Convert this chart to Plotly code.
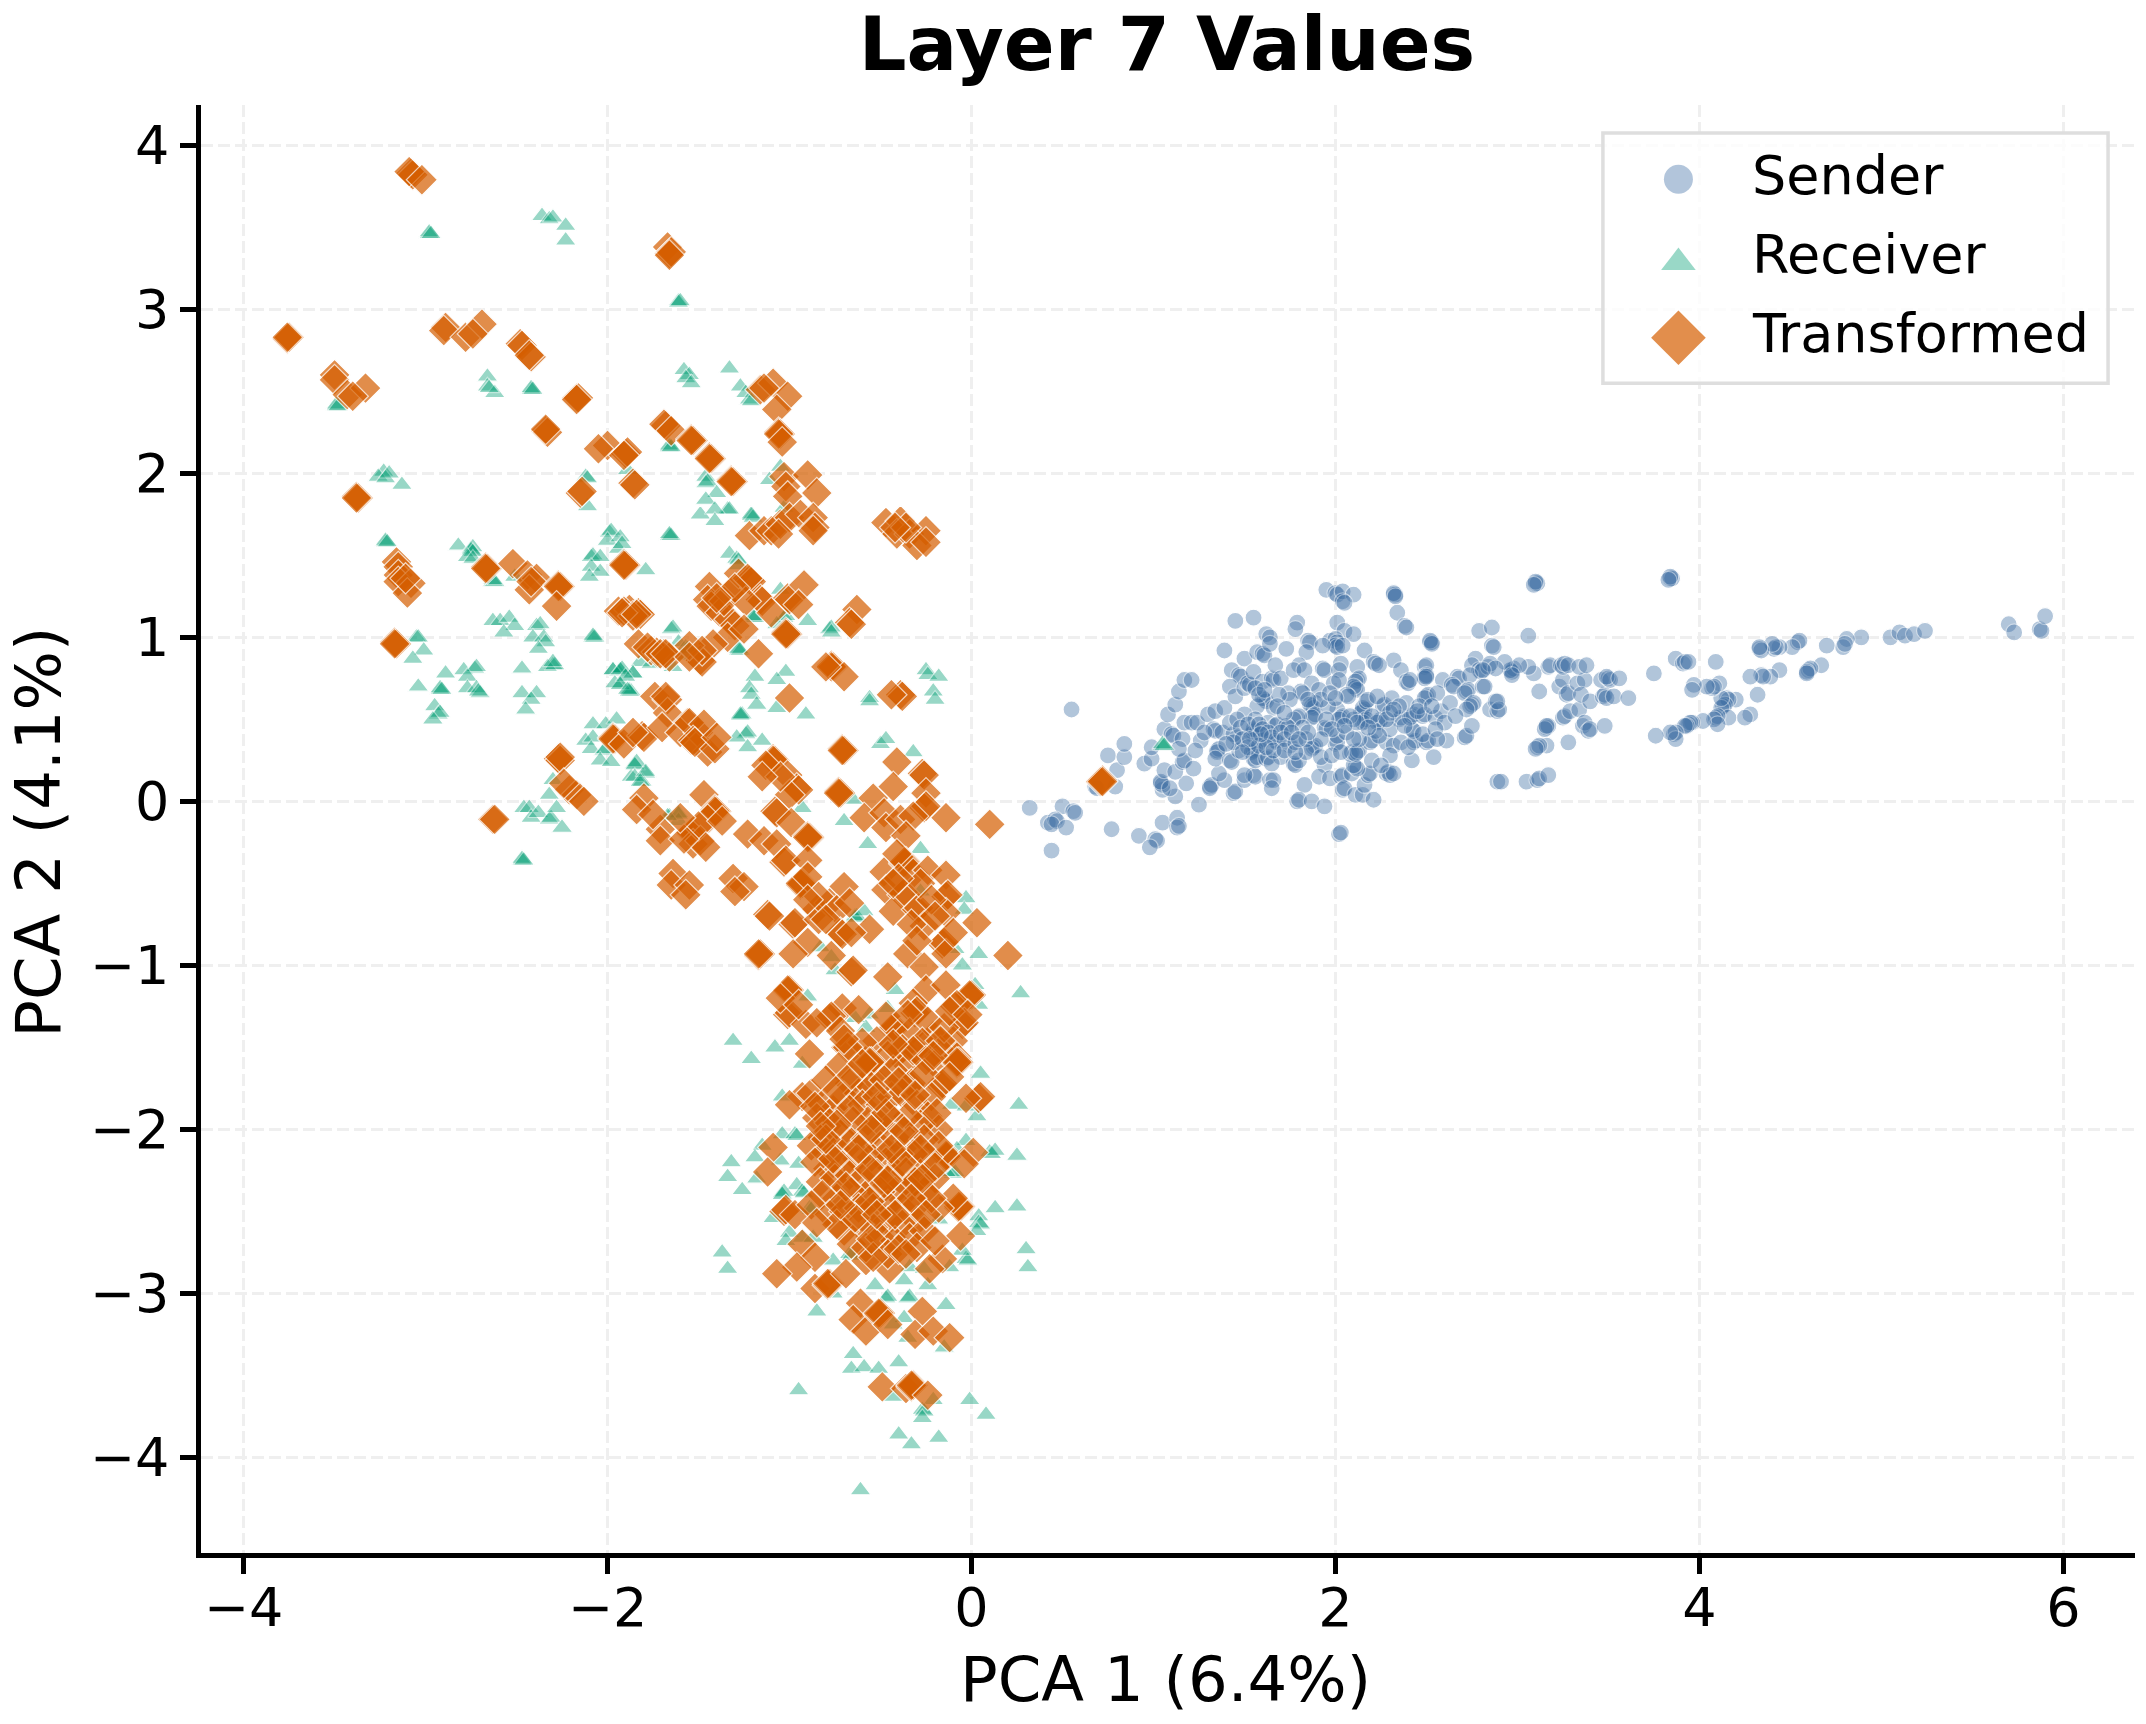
import plotly.graph_objects as go

TITLE = "Layer 7 Values"
X_LABEL = "PCA 1 (6.4%)"
Y_LABEL = "PCA 2 (4.1%)"
SERIES_NAMES = ["Sender", "Receiver", "Transformed"]
X_TICKS = [-4, -2, 0, 2, 4, 6]
Y_TICKS = [-4, -3, -2, -1, 0, 1, 2, 3, 4]

# Projected activations, (PCA 1, PCA 2), grouped by region of the embedding.
sender_left = [
    (.55,.56),(.32,-.04),(.50,-.03),(.56,-.06),(.57,-.07),(.42,-.13),(.46,-.11),(.47,-.12),(.44,-.14),(.52,-.16),(.44,-.30),(.77,-.17),
    (.92,-.21),(1.01,-.23),(1.02,-.24),(.98,-.28),(1.05,-.13),(1.13,-.10),(1.13,-.16),(1.14,-.15),(1.25,-.02),(1.12,.03),(1.05,.07),
    (1.04,.11),(1.05,.10),(1.04,.12),(1.09,.08),(1.18,.11),(1.31,.09),(1.32,.10),(1.31,.08),(1.44,.05),(1.45,.06),(1.39,.13),(1.36,.17),(1.50,.13),
    (.79,.09),(.80,.19),(.68,.09),(.69,.08),(.75,.28),(.84,.27),(.84,.35),(.95,.23),(.99,.26),(.99,.33),(1.06,.19),(1.12,.18),(1.16,.24),(1.17,.25),
    (1.22,.20),(1.06,.44),(1.10,.41),(1.11,.40),(1.16,.38),(1.26,.37),(1.23,.31),(1.14,.32),(1.08,.53),(1.12,.59),(1.14,.67),(1.17,.74),(1.21,.74),
    (1.17,.48),(1.21,.48),(1.24,.48),(1.30,.53),(1.34,.55),(1.39,.57),(1.33,.44),(1.34,.43),(1.38,.42),(1.35,.31),(1.36,.32),(1.35,.30),
    (1.34,.26),(1.42,.25),(1.43,.24),(1.46,.39),(1.44,.41),(1.47,.31),(1.55,.16),(1.56,.15),
]
sender_upper = [
    (1.45,1.10),(1.55,1.12),(1.39,.92),(1.50,.87),(1.57,.91),(1.60,.90),(1.61,.89),(1.62,1.02),(1.64,1.0),(1.64,.96),(1.43,.80),(1.47,.77),(1.48,.76),
    (1.42,.70),(1.45,.64),(1.50,.69),(1.52,.72),(1.53,.71),(1.55,.79),(1.60,.73),(1.65,.75),(1.66,.74),(1.67,.83),(1.70,.75),(1.79,1.09),(1.78,1.05),
    (1.73,.93),(1.85,.98),(1.86,.97),(1.84,.91),(1.80,.83),(1.77,.80),(1.83,.80),(1.93,.81),(1.94,.80),(1.95,1.29),(2.0,1.27),(2.01,1.26),(2.04,1.28),
    (2.10,1.26),(2.04,1.22),(2.05,1.21),(2.32,1.26),(2.33,1.26),(2.32,1.27),(2.33,1.25),(2.34,1.15),(2.38,1.07),(2.39,1.06),(2.01,1.09),(2.05,1.04),
    (2.10,1.02),(1.97,.98),(2.0,.99),(2.01,.97),(2.0,.95),(2.01,.94),(2.04,.95),(1.93,.95),(2.52,.97),(2.53,.97),(2.52,.98),(2.53,.96),(2.79,1.04),
    (2.86,1.06),(2.86,.95),(2.87,.94),(2.16,.92),(2.32,.86),(2.36,.80),(2.03,.84),(2.02,.80),(2.12,.82),(2.21,.85),(2.22,.84),(2.24,.83),(2.49,.82),
    (2.50,.83),(2.49,.76),(2.50,.77),(2.49,.75),(2.50,.76),(2.39,.73),(2.40,.72),(2.41,.74),(2.59,.74),(2.67,.76),(2.68,.75),(2.77,.87),(2.75,.83),
    (2.79,.80),(2.80,.79),(2.74,.77),(2.84,.82),
]
sender_core = [
    (2.12,.74),(2.13,.75),(2.11,.73),(2.11,.69),(2.12,.68),(2.10,.70),(2.06,.65),(2.07,.64),(1.99,.72),(2.02,.74),(1.87,.72),(1.91,.68),(1.81,.67),(1.82,.66),
    (1.74,.66),(1.89,.60),(1.87,.58),(1.88,.57),(1.86,.59),(1.88,.52),(1.89,.53),(1.87,.51),(1.79,.51),(1.80,.52),(1.77,.50),(1.61,.62),(1.62,.61),(1.60,.63),
    (1.57,.58),(1.66,.57),(1.63,.48),(1.55,.42),(1.56,.43),(1.54,.41),(1.55,.44),(1.50,.53),(1.56,.50),(1.60,.37),(1.61,.38),(1.67,.46),(1.68,.47),(1.73,.46),
    (1.74,.45),(1.67,.37),(1.68,.36),(1.75,.34),(1.55,.31),(1.56,.32),(1.54,.30),(1.55,.26),(1.56,.25),(1.57,.27),(1.62,.26),(1.63,.27),(1.70,.27),(1.65,.23),
    (1.77,.23),(1.78,.22),(1.80,.25),(1.50,.16),(1.64,.13),(1.66,.13),(1.65,.08),(1.83,.10),(1.79,0),(1.80,.01),(1.87,0),(1.94,-.03),(2.02,-.20),(2.03,-.19),
    (1.88,.33),(1.89,.34),(1.87,.32),(1.94,.45),(1.95,.44),(2.0,.35),(2.01,.36),(2.01,.40),(1.94,.22),(1.91,.15),(1.97,.14),(2.03,.15),(2.04,.16),(2.04,.07),
    (2.05,.08),(2.11,.04),(2.15,.04),(2.21,.01),(2.16,.10),(2.18,.16),(2.19,.17),(2.09,.17),(2.11,.21),(2.12,.20),(2.10,.22),(2.08,.29),(2.09,.30),(2.12,.30),
    (2.13,.31),(2.11,.29),(2.20,.25),(2.19,.36),(2.20,.37),(2.13,.38),(2.28,.17),(2.29,.18),(2.30,.16),(2.32,.17),(2.42,.25),(2.54,.27),(2.61,.37),(2.28,.36),
    (2.32,.34),(2.36,.36),(2.43,.36),(2.44,.37),(2.50,.36),(2.51,.37),(2.71,.39),(2.72,.40),(2.75,.46),(2.42,.44),(2.43,.43),(2.48,.41),(2.01,.56),(2.03,.51),
    (2.04,.52),(2.02,.50),(2.15,.55),(2.16,.56),(2.14,.54),(2.15,.57),(2.17,.61),(2.18,.62),(2.16,.49),(2.17,.50),(2.15,.48),(2.24,.49),(2.25,.50),(2.23,.48),
    (2.26,.58),(2.27,.59),(2.31,.63),(2.23,.64),(2.35,.50),(2.36,.51),(2.42,.52),(2.43,.53),(2.41,.51),(2.39,.60),(2.50,.64),(2.51,.65),(2.49,.63),(2.48,.52),
    (2.49,.53),(2.55,.51),(2.58,.55),(2.56,.66),(2.64,.71),(2.65,.70),(2.72,.67),(2.73,.68),(2.71,.66),(2.75,.59),(2.76,.60),(2.74,.58),(2.63,.60),(2.81,.70),
    (2.72,.56),(2.85,.56),(2.88,.61),(2.89,.55),(2.90,.56),(2.89,.12),(1.42,.48),(1.46,.50),(1.48,.45),(1.52,.47),(1.44,.36),(1.49,.38),(1.52,.33),(1.58,.47),
    (1.60,.44),(1.63,.42),(1.65,.39),(1.70,.42),(1.72,.38),(1.58,.34),(1.62,.33),(1.66,.31),(1.72,.31),(1.59,.41),(1.53,.38),(1.49,.30),(1.78,.36),(1.82,.45),
    (1.84,.38),(1.84,.30),(1.78,.30),(1.92,.27),(1.98,.28),(2.06,.42),(2.22,.43),(2.30,.44),(2.35,.58),(2.46,.58),(2.30,.54),(2.10,.50),(1.96,.58),(1.92,.62),
    (1.97,.66),(1.75,.62),(1.69,.65),(1.56,.69),(1.58,.65),(1.61,.68),
    (2.08,.52),(2.12,.48),(2.20,.52),(2.28,.50),(2.32,.56),(2.38,.46),(2.45,.55),(2.53,.58),(2.60,.48),(2.55,.44),(2.66,.52),(1.95,.50),(1.98,.44),(2.05,.46),
    (2.1,.38),(2.24,.40),(2.18,.45),(1.92,.38),(1.85,.42),(1.76,.42),(1.8,.38),(2.03,.30),(2.30,.28),(2.25,.22),(2.40,.33),(2.56,.38),(1.40,.35),(1.28,.42),
    (1.68,.58),(1.72,.54),(1.85,.62),(2.0,.63),
]
sender_right = [
    (3.10,1.33),(3.11,1.33),(3.10,1.34),(3.09,1.32),(3.84,1.36),(3.85,1.36),(3.84,1.37),(3.83,1.35),(5.70,1.08),(5.73,1.03),(5.87,1.05),(5.88,1.04),(5.90,1.13),
    (5.05,1.0),(5.10,1.03),(5.13,1.01),(5.18,1.02),(5.24,1.04),(4.89,1.0),(4.81,.99),(4.79,.94),(4.80,.96),(4.70,.95),(4.54,.97),(4.55,.98),(4.51,.94),(4.44,.94),
    (4.41,.93),(4.42,.94),(4.40,.96),(4.33,.93),(4.34,.92),(4.33,.94),(4.67,.83),(4.60,.80),(4.61,.81),(4.59,.79),(4.59,.78),(4.44,.80),(4.39,.76),(4.34,.77),
    (4.35,.76),(4.28,.76),(4.32,.65),(4.28,.53),(4.25,.51),(4.20,.62),(4.15,.63),(4.16,.62),(4.13,.58),(4.14,.59),(4.12,.57),(4.12,.63),(4.16,.51),(4.09,.51),
    (4.10,.52),(4.08,.50),(4.10,.47),(4.11,.72),(4.07,.69),(4.08,.70),(4.04,.70),(3.97,.71),(3.96,.68),(4.09,.85),(3.87,.87),(3.91,.84),(3.92,.85),(3.94,.85),
    (3.75,.78),(4.02,.49),(3.96,.48),(3.94,.47),(3.95,.48),(3.93,.46),(3.92,.46),(3.86,.41),(3.87,.42),(3.87,.38),(3.84,.42),(3.76,.40),(3.28,.36),(3.16,.34),
    (3.11,.33),(3.12,.34),(3.10,.32),(2.91,.12),(3.05,.12),(3.11,.13),(3.12,.14),(3.17,.16),(3.16,.45),(3.17,.46),(3.15,.44),(3.16,.46),(3.25,.51),(3.26,.52),
    (3.29,.55),(3.34,.56),(3.36,.46),(3.37,.48),(3.39,.43),(3.40,.44),(3.48,.46),(3.12,.67),(3.23,.70),(3.25,.74),(3.27,.65),(3.28,.66),(3.33,.72),(3.37,.74),
    (3.35,.65),(3.40,.61),(3.47,.64),(3.48,.65),(3.49,.63),(3.53,.64),(3.61,.63),(3.46,.74),(3.50,.75),(3.51,.74),(3.49,.76),(3.56,.75),(3.17,.82),(3.18,.83),
    (3.24,.83),(3.25,.82),(3.26,.84),(3.28,.83),(3.34,.82),(3.38,.83),(3.09,.78),(3.06,.82),(2.97,.80),(2.98,.81),(2.97,.79),(2.96,.80),(3.01,.83),(2.93,.85),
    (2.85,.84),(2.88,.81),(2.81,.80),(2.97,.77),(3.06,1.01),(2.82,.70),(2.89,.61),
]

receiver_upper = [
    (-2.98,3.46),(-2.98,3.47),(-2.97,3.46),(-2.36,3.57),(-2.32,3.55),(-2.30,3.56),(-2.23,3.51),(-2.23,3.42),(-1.61,3.05),(-1.61,3.04),(-1.60,3.05),(-3.49,2.41),
    (-3.49,2.42),(-3.48,2.41),(-2.66,2.59),(-2.66,2.53),(-2.62,2.49),(-2.65,2.52),(-2.42,2.51),(-2.42,2.52),(-2.41,2.51),(-1.58,2.63),(-1.55,2.60),(-1.57,2.58),
    (-1.54,2.55),(-1.33,2.64),(-1.27,2.53),(-1.24,2.49),(-1.22,2.45),(-1.21,2.44),(-1.66,2.16),(-1.66,2.17),(-1.65,2.16),(-2.12,1.98),(-2.11,1.97),(-1.89,2.02),
    (-3.23,2.01),(-3.26,1.98),(-3.22,1.97),(-3.20,2.0),(-3.13,1.93),(-2.11,1.80),(-1.46,1.98),(-1.46,1.94),(-1.45,1.95),(-1.40,1.88),(-1.46,1.84),(-1.34,1.78),
    (-1.33,1.78),(-1.49,1.75),(-1.41,1.78),(-1.41,1.71),(-1.21,1.74),(-1.20,1.73),(-1.21,1.75),(-1.05,2.04),(-1.11,1.96),(-1.03,1.79),(-1.99,1.64),(-1.98,1.65),
    (-2.0,1.59),(-1.93,1.61),(-1.94,1.54),(-1.92,1.57),(-2.09,1.49),(-2.08,1.50),(-2.04,1.49),(-2.09,1.43),(-2.04,1.40),(-2.1,1.37),(-1.66,1.62),(-1.65,1.62),
    (-1.66,1.63),(-1.79,1.41),(-1.33,1.51),(-1.29,1.48),(-1.28,1.47),(-1.28,1.44),(-3.22,1.58),(-3.22,1.59),(-3.21,1.58),(-2.82,1.56),(-2.75,1.54),(-2.74,1.55),
    (-2.75,1.53),(-2.74,1.52),(-2.77,1.49),(-2.74,1.48),(-2.63,1.34),(-2.62,1.34),(-2.63,1.35),(-2.51,1.37),
]
receiver_middle = [
    (-1.2,1.12),(-1.19,1.12),(-1.2,1.13),(-1.05,1.29),(-1.03,1.12),(-1.02,1.13),(-1.07,1.08),(-.90,1.10),(-.78,1.05),(-.77,1.06),(-.77,1.03),(-2.08,1.0),(-2.07,1.0),
    (-2.08,1.01),(-1.65,1.05),(-1.64,1.06),(-1.61,.97),(-1.57,.94),(-1.56,.93),(-1.58,.89),(-1.28,.92),(-1.27,.92),(-1.28,.93),(-1.64,.82),(-1.82,.85),(-1.76,.84),
    (-1.86,.78),(-1.94,.79),(-1.93,.80),(-1.97,.80),(-1.93,.72),(-1.88,.68),(-1.87,.67),(-1.96,.72),(-1.19,.76),(-1.22,.69),(-1.02,.79),(-1.07,.74),(-1.21,.65),
    (-.25,.80),(-.24,.77),(-.18,.76),(-.21,.67),(-.56,.63),(-2.30,.83),(-3.05,1.0),(-3.04,1.0),(-3.01,.92),(-3.07,.87),(-2.63,1.10),(-2.59,1.1),(-2.54,1.12),(-2.51,1.07),
    (-2.57,1.03),(-2.39,1.07),(-2.37,1.08),(-2.41,1.0),(-2.35,1.0),(-2.34,.97),(-2.38,.93),(-2.47,.81),(-2.33,.82),(-2.29,.83),(-2.30,.85),(-2.89,.78),(-2.79,.80),
    (-2.73,.81),(-2.72,.82),(-2.77,.76),(-3.04,.70),(-2.92,.68),(-2.92,.69),(-2.91,.68),(-2.77,.69),(-2.72,.69),(-2.70,.66),(-2.71,.67),(-2.95,.58),(-2.93,.53),(-2.92,.54),
    (-2.96,.50),(-2.47,.66),(-2.39,.66),(-2.42,.62),(-2.45,.56),(-1.97,.80),(-1.93,.80),(-1.92,.81),(-1.86,.78),(-1.90,.76),(-1.93,.71),(-1.88,.67),(-1.89,.68),(-2.08,.47),
    (-2.01,.47),(-1.95,.50),(-2.12,.37),(-2.08,.39),(-2.09,.32),(-2.02,.31),(-2.01,.32),(-2.04,.25),(-1.98,.24),(-1.85,.23),(-1.84,.24),(-1.87,.15),(-1.79,.17),(-1.81,.12),
    (-2.3,.13),(-2.32,.04),(-2.46,-.04),(-2.43,-.04),(-2.42,-.10),(-2.38,-.07),(-2.32,-.11),(-2.31,-.10),(-2.28,-.04),(-2.25,-.16),(-2.47,-.36),(-2.47,-.35),(-2.46,-.36),
    (-1.66,-.09),(-1.61,-.07),(-1.61,-.12),(-1.27,.52),(-1.26,.53),(-1.27,.53),(-1.24,.41),(-1.23,.42),(-1.29,.39),(-1.23,.33),(-1.15,.37),(-1.18,.59),(-1.07,.57),(-.91,.53),
    (-1.85,.22),(-1.85,.15),(-1.79,.18),(-1.82,.12),(-.50,.35),(-.47,.38),(-.32,.30),(-.56,.61),(-.20,.62),(-.65,.01),(-.93,-.04),(-.70,-.12),(-.57,-.26),(-.28,-.29),
    (-1.61,-.08),(-1.67,-.09),(-.28,-.55),(-.03,-.59),(-.04,-.66),(-.64,-.70),(-.63,-.70),(-.64,-.71),(-.59,-.67),(-.83,-.89),(-.77,-.95),(-.75,-1.03),(.04,-.93),(-.05,-1.0),
    (-.09,-.90),(-.42,-1.15),(-.46,-1.26),(-.56,-1.30),(-.58,-1.38),(-.64,-1.32),(-.90,-1.19),(.27,-1.17),(.02,-1.12),(.04,-1.24),(1.05,.34),(1.05,.35),(1.06,.34),
]
receiver_lower = [
    (-1.31,-1.46),(-1.21,-1.57),(-1.08,-1.50),(-1.0,-1.46),(-.93,-1.60),(-1.04,-1.80),(-1.04,-2.03),(-.97,-2.03),(-.96,-2.04),(-1.15,-2.10),(-1.19,-2.17),(-1.32,-2.20),(-1.34,-2.29),
    (-1.26,-2.37),(-1.18,-2.30),(-1.05,-2.19),(-.95,-2.21),(-.96,-2.34),(-.93,-2.38),(-.92,-2.39),(-1.04,-2.39),(-1.03,-2.38),(-1.04,-2.40),(-.89,-2.48),(-.88,-2.49),(-1.09,-2.54),
    (-1.0,-2.63),(-1.02,-2.68),(-.93,-2.66),(-.87,-2.66),(-1.37,-2.75),(-1.34,-2.85),(-.85,-3.11),(-.76,-2.80),(-.67,-2.76),(-.66,-2.77),(-.76,-3.0),(-.53,-2.95),(-.47,-3.03),
    (-.46,-3.02),(-.37,-2.92),(-.24,-2.95),(-.34,-2.84),(-.35,-3.03),(-.34,-3.02),(-.14,-3.07),(-.37,-3.15),(-.43,-3.19),(-.35,-3.27),(-.15,-3.33),(-.65,-3.37),(-.66,-3.46),(-.59,-3.45),
    (-.51,-3.46),(-.40,-3.42),(-.95,-3.59),(-.43,-3.63),(-.21,-3.65),(-.01,-3.65),(.08,-3.74),(-.27,-3.71),(-.26,-3.72),(-.27,-3.76),(-.40,-3.86),(-.33,-3.92),(-.18,-3.88),(-.61,-4.20),
    (.26,-1.85),(.03,-1.92),(-.11,-1.85),(-.03,-1.86),(.25,-2.16),(.10,-2.14),(.11,-2.15),(.13,-2.13),(-.03,-2.07),(.05,-1.66),(-.08,-2.12),(-.10,-2.27),(-.09,-2.26),(-.14,-2.26),
    (.13,-2.48),(.25,-2.47),(.04,-2.53),(.04,-2.57),(.05,-2.58),(.03,-2.62),(-.18,-2.55),(.30,-2.73),(.31,-2.84),(-.03,-2.79),(-.02,-2.80),(-.05,-2.74),(-.12,-2.84),(-.26,-2.85),
]

transformed_upper = [
    (-3.08,3.83),(-3.07,3.82),(-3.09,3.84),(-3.02,3.79),(-3.76,2.82),(-3.75,2.83),(-3.76,2.83),(-2.89,2.89),(-2.90,2.87),(-2.78,2.83),(-2.69,2.91),(-2.74,2.85),(-2.48,2.79),(-2.47,2.78),
    (-2.42,2.71),(-2.43,2.72),(-2.17,2.46),(-2.16,2.46),(-2.17,2.45),(-2.34,2.26),(-2.33,2.25),(-2.34,2.27),(-3.50,2.60),(-3.50,2.57),(-3.43,2.48),(-3.33,2.52),(-3.40,2.47),(-2.0,2.17),
    (-2.05,2.15),(-1.90,2.12),(-1.89,2.13),(-1.91,2.11),(-1.68,2.29),(-1.69,2.30),(-1.65,2.26),(-2.15,1.88),(-2.14,1.89),(-1.86,1.94),(-1.85,1.93),(-1.67,3.38),(-1.66,3.34),(-1.65,3.35),
    (-1.66,3.33),(-3.38,1.86),(-3.37,1.85),(-3.38,1.85),(-3.16,1.46),(-3.15,1.43),(-3.15,1.38),(-3.15,1.34),(-3.08,1.33),(-3.1,1.27),(-3.11,1.36),(-3.17,.97),(-3.16,.96),(-3.17,.96),
    (-2.67,1.43),(-2.66,1.42),(-2.67,1.42),(-2.52,1.45),(-2.44,1.38),(-2.39,1.36),(-2.43,1.29),(-2.42,1.34),(-2.27,1.32),(-2.26,1.31),(-2.27,1.31),(-2.28,1.19),(-1.91,1.45),(-1.90,1.44),
    (-1.91,1.44),(-1.94,1.16),(-1.88,1.17),(-1.83,1.15),(-1.82,1.14),(-1.91,1.16),(-1.83,.96),(-1.76,.92),(-1.69,.90),(-1.73,.91),(-1.66,.88),(-1.74,.64),(-1.67,.62),(-1.67,.54),(-1.56,.48),
    (-1.54,.37),(-1.97,.39),(-1.96,.38),(-1.97,.38),(-1.91,.35),(-1.81,.40),(-1.80,.39),(-1.86,.42),(-2.27,.26),(-2.26,.25),(-2.26,.27),(-2.21,.07),(-2.17,.04),(-2.13,0),(-2.24,.11),(-2.63,-.11),
    (-2.62,-.11),
    (-1.54,2.21),(-1.53,2.20),(-1.54,2.20),(-1.44,2.10),(-1.43,2.09),(-1.44,2.09),(-1.32,1.96),(-1.31,1.95),(-1.32,1.95),(-1.16,2.51),(-1.09,2.55),(-1.01,2.47),(-1.07,2.39),(-1.14,2.52),
    (-1.06,2.25),(-1.05,2.24),(-1.06,2.24),(-1.04,2.19),(-1.03,1.98),(-.90,1.99),(-.85,1.88),(-1.02,1.92),(-1.01,1.86),(-1.22,1.62),(-1.14,1.65),(-1.10,1.65),(-1.05,1.69),(-1.0,1.73),
    (-.94,1.75),(-1.06,1.63),(-.87,1.73),(-.86,1.67),(-.87,1.65),(-.47,1.70),(-.39,1.71),(-.41,1.63),(-.34,1.63),(-.25,1.65),(-.30,1.56),(-.25,1.58),(-.36,1.67),(-.42,1.67),
    (-1.44,1.31),(-1.45,1.23),(-1.43,1.19),(-1.38,1.15),(-1.33,1.27),(-1.28,1.39),(-1.22,1.35),(-1.21,1.34),(-1.23,1.36),(-1.16,1.23),(-1.15,1.22),(-1.33,1.11),(-1.30,1.07),(-1.01,1.24),
    (-1.0,1.23),(-.92,1.32),(-.95,1.20),(-1.02,1.03),(-1.01,1.02),(-1.02,1.02),(-1.17,.90),(-.63,1.17),(-.67,1.09),(-.66,1.08),(-.77,.83),(-.76,.82),(-.77,.82),(-.70,.76),(-.80,.82),
    (-.39,.65),(-.38,.64),(-.44,.65),(-1.86,1.13),(-1.92,1.15),(-1.84,1.14),(-1.78,.94),(-1.71,.90),(-1.68,.90),(-1.34,1.0),(-1.42,.96),(-1.49,.86),(-1.48,.85),(-1.68,.64),(-1.0,.63),
    (-1.36,1.22),(-1.24,1.22),(-1.30,1.30),(-1.40,1.24),(-1.10,1.15),(-1.25,1.05),(-1.55,.95),(-1.48,.92),(-1.55,.88),(-1.7,.45),(-1.6,.42),(-1.5,.42),(-1.45,.30),
]
transformed_middle = [
    (-1.55,.48),(-1.47,.47),(-1.53,.37),(-1.52,.36),(-1.41,.32),(-1.40,.39),(-1.09,.26),(-1.08,.25),(-1.09,.25),(-1.13,.22),(-1.01,.16),(-.96,.08),(-.95,.07),(-1.0,.04),(-1.08,-.06),
    (-1.07,-.07),(-.71,.32),(-.70,.31),(-.71,.31),(-.41,.24),(-.27,.17),(-.26,.16),(-.43,.09),(-.25,.05),(-.73,.06),(-.72,.05),(-.73,.05),(-.54,.02),(-.59,-.10),(-.48,-.07),(-.47,-.16),
    (-.39,-.11),(-.26,-.04),(-.25,-.03),(-.14,-.10),(.10,-.14),(-.32,-.09),(-.36,-.21),(-1.80,.02),(-1.84,-.05),(-1.71,-.17),(-1.71,-.24),(-1.54,-.20),(-1.53,-.19),(-1.54,-.19),(-1.53,-.26),
    (-1.47,.04),(-1.41,-.05),(-1.40,-.06),(-1.41,-.06),(-1.45,-.11),(-1.49,-.24),(-1.23,-.20),(-1.14,-.24),(-1.07,-.26),(-.99,-.13),(-.90,-.21),(-.89,-.22),(-.90,-.22),(-1.03,-.37),(-1.02,-.36),
    (-.90,-.36),(-.94,-.51),(-.93,-.50),(-.94,-.50),(-.90,-.46),(-1.64,-.44),(-1.65,-.51),(-1.55,-.51),(-1.57,-.57),(-1.31,-.47),(-1.25,-.52),(-1.30,-.55),(-1.12,-.69),(-1.11,-.70),(-.98,-.75),
    (-.97,-.74),(-.90,-.86),(-.98,-.93),(-.70,-.52),(-.85,-.66),(-.78,-.62),(-.74,-.66),(-.84,-.72),(-1.17,-.94),(-1.16,-.93),(-1.17,-.93),(-.72,-.80),(-.71,-.81),(-.77,-.94),(-.66,-1.04),
    (-.65,-1.03),(-.56,-.78),(-.46,-1.07),(-.35,-.93),(-.26,-1.01),(-.48,-.43),(-.37,-.38),(-.36,-.37),(-.37,-.37),(-.32,-.44),(-.24,-.42),(-.14,-.45),(-.47,-.54),(-.38,-.57),(-.37,-.56),(-.43,-.67),
    (-.30,-.66),(-.29,-.65),(-.14,-.58),(-.13,-.57),(-.14,-.68),(.03,-.74),(.20,-.94),(-.26,-.76),(-.16,-.87),(-.15,-.86),(-.14,-.93),(-.25,-1.15),(-.14,-1.12),(-.01,-1.19),(0,-1.18),(-.01,-1.18),
    (-.09,-1.25),(-.08,-1.24),(-.32,-1.23),(-.31,-1.29),(-.30,-1.28),(-1.01,-1.16),(-1.0,-1.15),(-1.01,-1.15),(-1.01,-1.30),(-1.0,-1.29),(-.91,-1.36),(-1.05,-1.20),(-.71,-1.26),(-.78,-1.32),(-.77,-1.31),
    (-.89,-1.54),(-.69,-1.50),(-.05,-1.36),(-.04,-1.35),(-.43,-1.39),(-.42,-1.38),(-.43,-1.38),(-.34,-1.41),(-.21,-1.43),(-.10,-1.46),(-.39,-1.52),(-.38,-1.51),(-.30,-1.52),(-.17,-1.52),(-.08,-1.56),
    (-.58,-1.58),(.72,.13),(.71,.12),(.72,.12),
    (-.52,-1.46),(-.47,-1.31),(-.24,-1.34),(-.15,-1.38),(-.27,-1.47),(-.36,-1.60),(-.46,-1.55),(-.60,-1.47),(-.12,-1.28),(-.20,-1.60),(-.02,-1.30),(-.35,-1.30),(-.55,-1.68),
    (-.95,-1.24),(-.85,-1.35),(-.72,-1.40),(-.62,-1.27),(-.41,-.32),(-.28,-.50),(-.22,-.60),(-.40,-.47),(-.33,-.75),(-.43,-.50),(-.20,-.70),(-.10,-.80),(-.30,-.85),
    (-.84,-.58),(-.80,-.72),(-.67,-.62),(-.90,-.60),(-.66,-.80),(-1.50,-.15),(-1.46,-.28),(-1.58,-.23),(-1.37,-.12),(-1.60,-.10),(-1.75,-.08),(-1.05,.15),(-1.15,.15),
]
transformed_lower = [
    (-.68,-1.50),(-.93,-1.80),(-1.0,-1.85),(-1.09,-2.11),(-1.12,-2.26),(-1.03,-2.50),(-1.02,-2.49),(-.97,-2.52),(-.93,-2.70),(-.86,-2.78),(-.96,-2.84),(-1.07,-2.88),(-.86,-2.97),(-.79,-2.95),
    (-.78,-2.94),(-.79,-2.94),(-.69,-2.88),(-.61,-3.06),(-.65,-3.16),(-.58,-3.23),(-.51,-3.13),(-.50,-3.12),(-.51,-3.12),(-.46,-3.19),(-.27,-3.11),(-.31,-3.25),(-.21,-3.23),(-.12,-3.27),(-.49,-3.57),
    (-.36,-3.58),(-.33,-3.57),(-.32,-3.56),(-.33,-3.56),(-.24,-3.62),(.04,-1.81),(.05,-1.80),(-.03,-1.81),(-.14,-2.17),(-.13,-2.16),(-.14,-2.16),(.01,-2.14),(-.04,-2.21),(-.07,-2.48),(-.06,-2.47),
    (-.07,-2.47),(-.10,-2.42),(-.18,-2.48),(-.06,-2.65),(-.16,-2.79),(-.23,-2.85),(-.45,-2.85),(-.58,-2.80),(-.56,-1.60),(-.55,-1.59),(-.56,-1.59),(-.73,-1.62),(-.67,-1.72),(-.43,-1.64),(-.32,-1.52),
    (-.17,-1.46),(-.08,-1.60),(-.07,-1.59),(-.08,-1.59),(-.34,-1.73),(-.33,-1.72),(-.17,-1.73),(-.16,-1.72),(-.25,-1.58),(-.43,-1.48),
    (-.88,-1.78),(-.80,-1.70),(-.82,-1.85),(-.76,-1.88),(-.85,-1.93),(-.78,-1.96),(-.70,-1.80),(-.62,-1.78),(-.55,-1.74),(-.60,-1.85),(-.50,-1.85),(-.44,-1.80),(-.38,-1.78),(-.30,-1.85),(-.22,-1.80),
    (-.24,-1.92),(-.18,-2.0),(-.28,-1.97),(-.35,-1.92),(-.42,-1.95),(-.50,-1.97),(-.57,-1.95),(-.65,-1.95),(-.72,-2.03),(-.82,-2.05),(-.88,-2.10),(-.80,-2.14),(-.74,-2.12),(-.66,-2.08),(-.58,-2.06),
    (-.50,-2.10),(-.42,-2.05),(-.34,-2.07),(-.26,-2.06),(-.18,-2.10),(-.24,-2.17),(-.32,-2.15),(-.40,-2.15),(-.47,-2.20),(-.55,-2.17),(-.63,-2.18),(-.71,-2.22),(-.79,-2.24),(-.86,-2.20),(-.83,-2.32),
    (-.75,-2.30),(-.67,-2.28),(-.60,-2.30),(-.52,-2.27),(-.44,-2.28),(-.36,-2.26),(-.28,-2.27),(-.20,-2.30),(-.26,-2.38),(-.34,-2.36),(-.42,-2.38),(-.50,-2.38),(-.58,-2.40),(-.66,-2.38),(-.74,-2.42),
    (-.82,-2.40),(-.88,-2.46),(-.78,-2.52),(-.70,-2.50),(-.62,-2.48),(-.54,-2.48),(-.46,-2.46),(-.38,-2.48),(-.30,-2.46),(-.22,-2.42),(-.30,-2.56),(-.38,-2.58),(-.46,-2.56),(-.54,-2.60),(-.62,-2.58),
    (-.70,-2.62),(-.74,-2.58),(-.66,-2.70),(-.58,-2.72),(-.50,-2.66),(-.42,-2.68),(-.34,-2.66),(-.26,-2.62),(-.46,-2.76),(-.40,-2.73),(-.54,-2.78),(-.30,-2.72),(-.20,-2.68),
    (-.86,-1.86),(-.74,-1.76),(-.66,-1.67),(-.48,-1.70),(-.40,-1.71),(-.26,-1.66),(-.21,-1.55),(-.12,-1.68),(-.19,-1.90),(-.31,-1.79),(-.47,-1.90),(-.67,-1.88),(-.74,-1.97),(-.55,-2.00),(-.37,-2.01),
    (-.20,-2.23),(-.38,-2.20),(-.56,-2.24),(-.76,-2.18),(-.69,-2.35),(-.48,-2.33),(-.31,-2.32),(-.56,-2.44),(-.33,-2.42),(-.42,-2.52),(-.64,-2.54),(-.85,-2.57),(-.25,-2.52),(-.55,-2.67),(-.36,-2.76),
    (-.80,-2.06),(-.62,-2.12),(-.28,-2.12),(-.44,-2.12),(-.72,-2.46),(-.52,-2.52),(-.27,-2.30),(-.83,-1.98),(-.52,-1.80),(-.46,-2.31),(-.60,-1.60),(-.70,-1.45),
]

SERIES = [
    sender_left + sender_upper + sender_core + sender_right,
    receiver_upper + receiver_middle + receiver_lower,
    transformed_upper + transformed_middle + transformed_lower,
]

# Key entries sit inside an empty part of the axes, in axis units.
KEY_X = 3.885
KEY_TEXT_X = 4.28
KEY_Y = [3.793, 3.285, 2.827]
KEY_TEXT_Y = [3.817, 3.337, 2.855]
KEY_BOX = (3.47, 6.246, 2.55, 4.075)

STYLES = [
    dict(symbol="circle", color="#3f6fa4", opacity=0.4, size=17, key_size=29),
    dict(symbol="triangle-up", color="#009E73", opacity=0.4, size=18.5, key_size=30),
    dict(symbol="diamond", color="#D55E00", opacity=0.7, size=24, key_size=42),
]
EDGE = dict(color="white", width=1.2)
FONT = "DejaVu Sans"

fig = go.Figure()

for name, points, style in zip(SERIES_NAMES, SERIES, STYLES):
    fig.add_trace(go.Scatter(
        x=[p[0] for p in points],
        y=[p[1] for p in points],
        mode="markers",
        name=name,
        showlegend=False,
        marker=dict(symbol=style["symbol"], color=style["color"], opacity=style["opacity"],
                    size=style["size"], line=EDGE),
    ))

for name, y, text_y, style in zip(SERIES_NAMES, KEY_Y, KEY_TEXT_Y, STYLES):
    fig.add_trace(go.Scatter(
        x=[KEY_X], y=[y], mode="markers", showlegend=False, hoverinfo="skip",
        marker=dict(symbol=style["symbol"], color=style["color"], opacity=style["opacity"],
                    size=style["key_size"], line=dict(width=0)),
    ))
    fig.add_annotation(x=KEY_TEXT_X, y=text_y, text=name, showarrow=False, xanchor="left",
                       yanchor="middle", font=dict(family=FONT, size=54, color="black"))

fig.add_shape(type="rect", x0=KEY_BOX[0], x1=KEY_BOX[1], y0=KEY_BOX[2], y1=KEY_BOX[3],
              layer="between", fillcolor="rgba(255,255,255,0.8)", line=dict(color="#dedede", width=3.5))

# Axis titles are placed as annotations so their offsets can be set exactly.
label_font = dict(family=FONT, size=62.5, color="black")
fig.add_annotation(text=X_LABEL, xref="paper", yref="paper", x=0.4987, y=0, yshift=-126,
                   xanchor="center", yanchor="middle", showarrow=False, font=label_font)
fig.add_annotation(text=Y_LABEL, xref="paper", yref="paper", x=0, xshift=-162, y=0.4974,
                   xanchor="center", yanchor="middle", textangle=-90, showarrow=False, font=label_font)

axis_style = dict(
    showline=True, linecolor="black", linewidth=4.5, mirror=False,
    ticks="outside", ticklen=16, tickwidth=4.5, tickcolor="black",
    showgrid=True, gridcolor="#efefef", gridwidth=3, griddash="12px,5px",
    zeroline=False, tickfont=dict(family=FONT, size=54, color="black"),
)

fig.update_layout(
    width=2146, height=1724, autosize=False,
    paper_bgcolor="white", plot_bgcolor="white",
    margin=dict(l=200.7, r=11, t=105, b=171),
    font=dict(family=FONT),
    title=dict(text=TITLE, x=0.4995, xref="paper", xanchor="center", y=0.9745, yref="container",
               yanchor="middle", font=dict(family=FONT, size=75, color="black", weight="bold")),
    xaxis=dict(range=[-4.234, 6.394], tickvals=X_TICKS, ticklabelstandoff=-13, **axis_style),
    yaxis=dict(range=[-4.583, 4.246], tickvals=Y_TICKS, **axis_style),
)

fig.write_html("out.html")
